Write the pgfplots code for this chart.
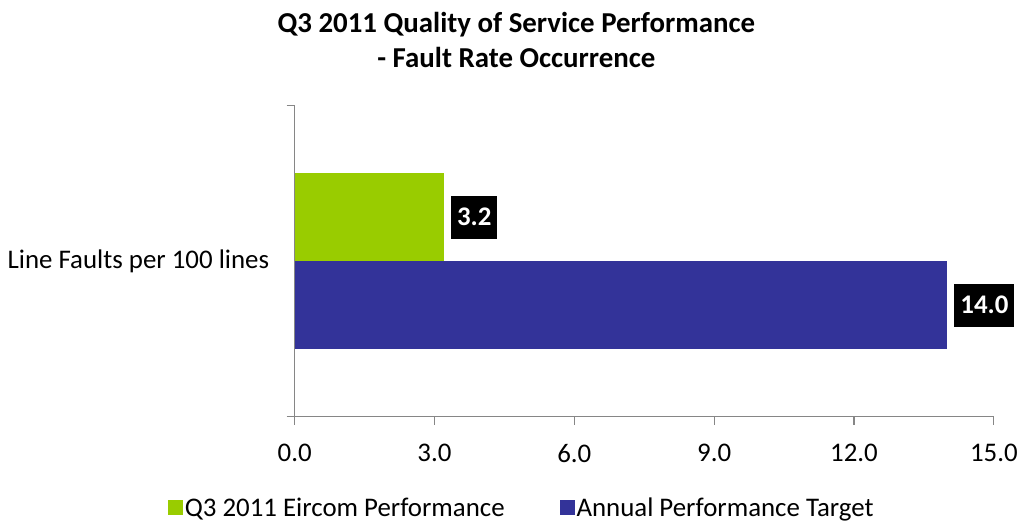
\documentclass[border=0pt]{standalone}
\usepackage{pgfplots}
\pgfplotsset{compat=1.18}
\usepackage{fontspec}
\setmainfont{Carlito}
\definecolor{eirgreen}{HTML}{99CC00}
\definecolor{eirblue}{HTML}{333399}
\definecolor{axgray}{HTML}{868686}

\begin{document}
\begin{tikzpicture}
\begin{axis}[
    scale only axis,
    width=700bp, height=311bp,
    xbar,
    axis lines*=left,
    axis line style={axgray, line width=1.2bp},
    xmin=0, xmax=15,
    ymin=-0.5, ymax=0.5,
    xtick={0,3,...,15},
    tick style={axgray, line width=1.2bp},
    tick align=outside,
    major tick length=8bp,
    xticklabel style={font=\fontsize{27}{32}\selectfont, yshift=-16bp},
    /pgf/number format/.cd, fixed, fixed zerofill, precision=1, assume math mode=true,
    /pgfplots/.cd,
    ytick={-0.5,0.5},
    yticklabels={},
    extra y ticks={0},
    extra y tick labels={Line Faults per 100 lines},
    extra y tick style={major tick length=0pt,
        yticklabel style={font=\fontsize{27}{32}\selectfont, xshift=-22bp}},
    bar width=0.283,
    nodes near coords,
    nodes near coords style={fill=black, text=white, font=\fontsize{27}{32}\selectfont\bfseries,
        anchor=west, xshift=7bp, inner xsep=6bp, minimum height=43bp},
    legend style={at={(-0.186,-0.293)}, anchor=west, draw=none, fill=none,
        legend columns=2, font=\fontsize{27}{32}\selectfont,
        /tikz/every even column/.style={column sep=53bp}},
    legend image code/.code={\fill[#1] (0bp,-7.5bp) rectangle (15bp,7.5bp);},
]
\addplot[fill=eirgreen, draw=none, bar shift=0.1415] coordinates {(3.2,0)};
\addplot[fill=eirblue, draw=none, bar shift=-0.1415] coordinates {(14.0,0)};
\legend{Q3 2011 Eircom Performance, Annual Performance Target}
\end{axis}
\node[font=\fontsize{29}{35}\selectfont\bfseries, align=center]
    at ([shift={(222bp,377bp)}]current axis.south west)
    {Q3 2011 Quality of Service Performance\\- Fault Rate Occurrence};
\path ([shift={(-295bp,-107bp)}]current axis.south west) rectangle ++(1021bp,524bp);
\end{tikzpicture}
\end{document}
